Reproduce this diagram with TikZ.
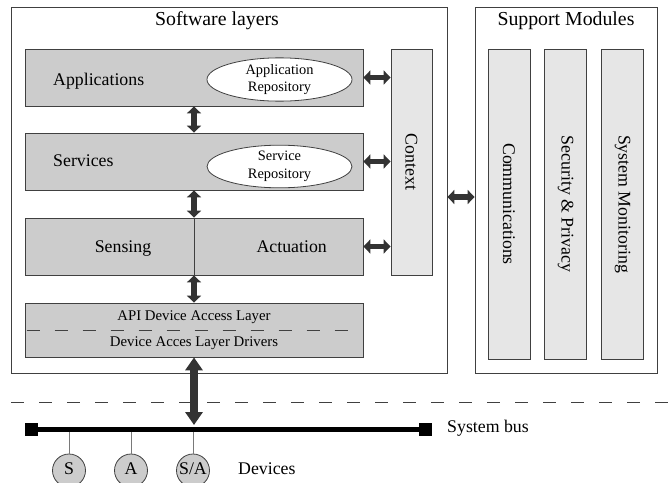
\documentclass[tikz,border=0pt]{standalone}
\usepackage{fontspec}
\setmainfont{Liberation Serif}
\usetikzlibrary{arrows.meta,shapes.geometric}
\definecolor{layergray}{HTML}{CCCCCC}
\definecolor{modgray}{HTML}{E6E6E6}
\definecolor{arrowgray}{HTML}{333333}
\definecolor{edgegray}{HTML}{404040}
\tikzset{
        frame/.style={draw=edgegray,line width=0.8pt,inner sep=0pt},
        layer/.style={frame,fill=layergray,minimum width=338pt,minimum height=57pt},
        module/.style={frame,fill=modgray,minimum height=310pt,minimum width=42pt},
        repo/.style={ellipse,draw=edgegray,line width=0.8pt,fill=white,inner sep=0pt,minimum width=145pt,align=center,font=\fontsize{14.4pt}{17.5pt}\selectfont},
        lbl/.style={inner sep=0pt,font=\fontsize{17.8pt}{21pt}\selectfont},
        title/.style={inner sep=0pt,anchor=base,font=\fontsize{19.8pt}{23pt}\selectfont},
        small/.style={inner sep=0pt,font=\fontsize{14.8pt}{17pt}\selectfont},
        dbl/.style={arrowgray,line width=5.5pt,{Triangle[width=14pt,length=7pt]}-{Triangle[width=14pt,length=7pt]}},
        bigdbl/.style={arrowgray,line width=8pt,{Triangle[width=17pt,length=13pt]}-{Triangle[width=17pt,length=13pt]}},
        sepline/.style={edgegray,line width=0.8pt,dash pattern=on 13pt off 15pt},
        busend/.style={fill=black,inner sep=0pt,minimum size=13pt},
        device/.style={circle,draw=edgegray,line width=0.8pt,fill=layergray,inner sep=0pt,minimum size=33pt,text height=11.8pt,text depth=3.9pt,font=\fontsize{17.8pt}{21pt}\selectfont}
}
\begin{document}
\begin{tikzpicture}[x=1pt,y=-1pt]
        \useasboundingbox (0,0) rectangle (669,482);
        \clip (0,0) rectangle (669,482);
        \node[frame,minimum width=436pt,minimum height=366pt] (sw) at (229,190) {};
        \node[frame,minimum width=182pt,minimum height=366pt] (sm) at (566,190) {};
        \node[title] at (217,25) {Software layers};
        \node[title] at (566,25) {Support Modules};
        \node[layer] (app) at (194,77.5) {};
        \node[layer] (serv) at (194,161.5) {};
        \node[layer] (sense) at (194,246.5) {};
        \node[layer,minimum height=54pt] (api) at (194,330) {};
        \draw[edgegray,line width=0.8pt] (sense.north) -- (sense.south);
        \node[lbl,anchor=base west] at (53,85) {Applications};
        \node[lbl,anchor=base west] at (53,166.7) {Services};
        \node[lbl,anchor=base] at (123,252.7) {Sensing};
        \node[lbl,anchor=base] at (291.7,252.7) {Actuation};
        \node[repo,minimum height=42pt] (apprepo) at (279.5,79.5) {Application\\Repository};
        \node[repo,minimum height=37pt] (servrepo) at (279.5,166.5) {Service\\Repository};
        \draw[sepline] ([xshift=2pt]api.west) -- ([xshift=-10pt]api.east);
        \node[small] at ([yshift=13pt]api.center) {API Device Access Layer};
        \node[small] at ([yshift=-13pt]api.center) {Device Acces Layer Drivers};
        \node[frame,fill=modgray,minimum width=41pt,minimum height=226pt] (ctx) at (411.5,162) {};
        \node[lbl,rotate=-90] at (ctx) {Context};
        \foreach \n/\x/\t in {comm/509/Communications,sec/565.5/Security \& Privacy,mon/622.5/System Monitoring}
        {
        \node[module] (\n) at (\x,204) {};
        \node[lbl,rotate=-90] at (\n) {\t};
        }
        \draw[dbl] (app.south) -- (serv.north);
        \draw[dbl] (serv.south) -- (sense.north);
        \draw[dbl] (sense.south) -- (api.north);
        \foreach \n in {app,serv,sense}
        \draw[dbl] (\n.east) -- (\n.east -| ctx.west);
        \draw[dbl] ([yshift=-7pt]sw.east) -- ([yshift=-7pt]sw.east -| sm.west);
        \draw[sepline] (11,402) -- (669,402);
        \node[busend] (busl) at (31.5,429.5) {};
        \node[busend] (busr) at (425.5,429.5) {};
        \foreach \n/\x/\t in {s/69/S,a/131/A,sa/193/{S/A}}
        {
        \node[device] (dev\n) at (\x,470.5) {\t};
        \draw[edgegray!70,line width=0.8pt] (dev\n) -- (dev\n |- busl);
        }
        \draw[black,line width=5.5pt] (busl) -- (busr);
        \coordinate (bustap) at (194,425);
        \draw[bigdbl] (api.south) -- (bustap);
        \node[lbl,anchor=base west] at (447,432.5) {System bus};
        \node[lbl,anchor=base west] at (238,474.5) {Devices};
\end{tikzpicture}
\end{document}
